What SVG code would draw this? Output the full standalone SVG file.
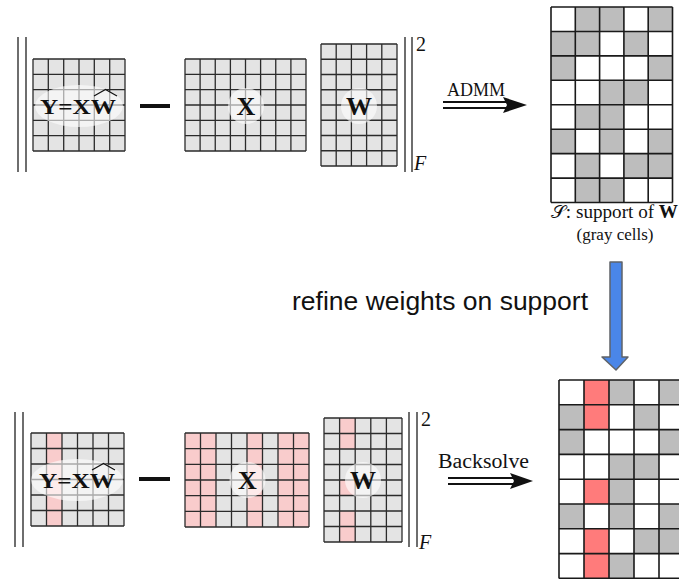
<svg xmlns="http://www.w3.org/2000/svg" width="679" height="579" viewBox="0 0 679 579">
<style>
.bg{fill:#e4e4e4}
.wh{fill:#ffffff}
.pk{fill:#f9cccc}
.gy{fill:#bdbdbd}
.rd{fill:#ff7b7b}
.grid{fill:none;stroke:#2b2b2b;stroke-width:1.3}
.grid2{fill:none;stroke:#1a1a1a;stroke-width:1.6}
.bar{stroke:#4a4a4a;stroke-width:1.6}
.minus{stroke:#111;stroke-width:4}
.halo{fill:#ffffff;fill-opacity:0.6}
.lbl{font-family:"Liberation Serif",serif;font-weight:bold;fill:#111;text-anchor:middle}
.ser{font-family:"Liberation Serif",serif;fill:#111}
.it{font-family:"Liberation Serif",serif;font-style:italic;fill:#111}
.dl{stroke:#111;stroke-width:2}
</style>

<g id="top-norm">
  <line class="bar" x1="18" y1="37" x2="18" y2="172"/>
  <line class="bar" x1="26" y1="37" x2="26" y2="172"/>
  <line class="bar" x1="405" y1="37" x2="405" y2="172"/>
  <line class="bar" x1="412" y1="37" x2="412" y2="172"/>
  <text class="ser" x="416" y="51" font-size="20">2</text>
  <text class="it" x="414" y="170" font-size="20">F</text>
  <line class="minus" x1="140" y1="106" x2="170" y2="106"/>
</g>

<g id="top-Y">
  <rect class="bg" x="33" y="59" width="92" height="92"/>
  <path class="grid" d="M33 59V151M48.3 59V151M63.7 59V151M79 59V151M94.3 59V151M109.7 59V151M125 59V151M33 59H125M33 74.3H125M33 89.7H125M33 105H125M33 120.3H125M33 135.7H125M33 151H125"/>
  <ellipse class="halo" cx="79" cy="106" rx="44" ry="21"/>
  <text class="lbl" x="78" y="114" font-size="21" textLength="76" lengthAdjust="spacingAndGlyphs">Y=XW</text>
  <path d="M94 96L105.5 89.5L117 96" fill="none" stroke="#111" stroke-width="1.2"/>
</g>

<g id="top-X">
  <rect class="bg" x="185" y="59" width="121" height="92"/>
  <path class="grid" d="M185 59V151M200.1 59V151M215.25 59V151M230.4 59V151M245.5 59V151M260.6 59V151M275.75 59V151M290.9 59V151M306 59V151M185 59H306M185 74.3H306M185 89.7H306M185 105H306M185 120.3H306M185 135.7H306M185 151H306"/>
  <circle class="halo" cx="246" cy="106" r="18"/>
  <text class="lbl" x="246" y="115" font-size="26">X</text>
</g>

<g id="top-W">
  <rect class="bg" x="321" y="44" width="76" height="122"/>
  <path class="grid" d="M321 44V166M336.2 44V166M351.4 44V166M366.6 44V166M381.8 44V166M397 44V166M321 44H397M321 59.25H397M321 74.5H397M321 89.75H397M321 105H397M321 120.25H397M321 135.5H397M321 150.75H397M321 166H397"/>
  <circle class="halo" cx="359" cy="106" r="18"/>
  <text class="lbl" x="359" y="115" font-size="26">W</text>
</g>

<g id="admm-arrow">
  <text class="ser" x="447" y="96" font-size="19" textLength="58" lengthAdjust="spacingAndGlyphs">ADMM</text>
  <line class="dl" x1="443" y1="102" x2="510" y2="102"/>
  <line class="dl" x1="443" y1="108" x2="510" y2="108"/>
  <polygon points="503,97 527,105 503,113 507,105" fill="#111"/>
</g>

<g id="top-S">
  <rect class="wh" x="551" y="7" width="121.5" height="195.5"/>
  <g class="gy">
    <rect x="575.3" y="7" width="24.3" height="24.44"/><rect x="599.6" y="7" width="24.3" height="24.44"/><rect x="648.2" y="7" width="24.3" height="24.44"/>
    <rect x="551" y="31.44" width="24.3" height="24.44"/><rect x="575.3" y="31.44" width="24.3" height="24.44"/><rect x="623.9" y="31.44" width="24.3" height="24.44"/>
    <rect x="551" y="55.88" width="24.3" height="24.44"/><rect x="648.2" y="55.88" width="24.3" height="24.44"/>
    <rect x="599.6" y="80.32" width="24.3" height="24.44"/><rect x="623.9" y="80.32" width="24.3" height="24.44"/>
    <rect x="575.3" y="104.76" width="24.3" height="24.44"/><rect x="599.6" y="104.76" width="24.3" height="24.44"/>
    <rect x="551" y="129.2" width="24.3" height="24.44"/><rect x="599.6" y="129.2" width="24.3" height="24.44"/><rect x="648.2" y="129.2" width="24.3" height="24.44"/>
    <rect x="575.3" y="153.64" width="24.3" height="24.44"/><rect x="623.9" y="153.64" width="24.3" height="24.44"/><rect x="648.2" y="153.64" width="24.3" height="24.44"/>
    <rect x="575.3" y="178.08" width="24.3" height="24.44"/><rect x="599.6" y="178.08" width="24.3" height="24.44"/>
  </g>
  <path class="grid2" d="M551 7V202.5M575.3 7V202.5M599.6 7V202.5M623.9 7V202.5M648.2 7V202.5M672.5 7V202.5M551 7H672.5M551 31.44H672.5M551 55.88H672.5M551 80.32H672.5M551 104.76H672.5M551 129.2H672.5M551 153.64H672.5M551 178.08H672.5M551 202.5H672.5"/>
  <text class="ser" x="551" y="218" font-size="18" textLength="127" lengthAdjust="spacingAndGlyphs"><tspan font-family="'DejaVu Serif',serif">𝒮</tspan>: support of <tspan font-weight="bold">W</tspan></text>
  <text class="ser" x="615" y="240" font-size="17" text-anchor="middle">(gray cells)</text>
</g>

<g id="refine">
  <text x="292" y="310" font-family="'Liberation Sans',Arial,sans-serif" font-size="26" fill="#111" textLength="296" lengthAdjust="spacingAndGlyphs">refine weights on support</text>
  <polygon points="610,262 622,262 622,357 628,357 616,370 602,357 610,357" fill="#4a86e8" stroke="#5f6368" stroke-width="1.5" stroke-linejoin="round"/>
</g>

<g id="bottom-norm">
  <line class="bar" x1="15" y1="412" x2="15" y2="547"/>
  <line class="bar" x1="23" y1="412" x2="23" y2="547"/>
  <line class="bar" x1="409" y1="412" x2="409" y2="547"/>
  <line class="bar" x1="417" y1="412" x2="417" y2="547"/>
  <text class="ser" x="421" y="426" font-size="20">2</text>
  <text class="it" x="419" y="549" font-size="20">F</text>
  <line class="minus" x1="139" y1="479" x2="170" y2="479"/>
</g>

<g id="bottom-Y">
  <rect class="bg" x="31" y="433" width="93" height="93"/>
  <rect class="pk" x="46.5" y="433" width="15.5" height="93"/>
  <path class="grid" d="M31 433V526M46.5 433V526M62 433V526M77.5 433V526M93 433V526M108.5 433V526M124 433V526M31 433H124M31 448.5H124M31 464H124M31 479.5H124M31 495H124M31 510.5H124M31 526H124"/>
  <ellipse class="halo" cx="77" cy="480" rx="46" ry="21"/>
  <text class="lbl" x="77" y="488" font-size="21" textLength="76" lengthAdjust="spacingAndGlyphs">Y=XW</text>
  <path d="M92 470L103.5 463.5L115 470" fill="none" stroke="#111" stroke-width="1.2"/>
</g>

<g id="bottom-X">
  <rect class="bg" x="185" y="433" width="124" height="94"/>
  <rect class="pk" x="185" y="433" width="31" height="94"/>
  <rect class="pk" x="247" y="433" width="15.5" height="94"/>
  <rect class="pk" x="278" y="433" width="31" height="94"/>
  <path class="grid" d="M185 433V527M200.5 433V527M216 433V527M231.5 433V527M247 433V527M262.5 433V527M278 433V527M293.5 433V527M309 433V527M185 433H309M185 448.67H309M185 464.33H309M185 480H309M185 495.67H309M185 511.33H309M185 527H309"/>
  <circle class="halo" cx="247.5" cy="480" r="18"/>
  <text class="lbl" x="247.5" y="489" font-size="26">X</text>
</g>

<g id="bottom-W">
  <rect class="bg" x="324" y="418" width="78" height="124"/>
  <rect class="pk" x="339.6" y="418" width="15.6" height="31"/>
  <rect class="pk" x="339.6" y="480" width="15.6" height="15.5"/>
  <rect class="pk" x="339.6" y="511" width="15.6" height="31"/>
  <path class="grid" d="M324 418V542M339.6 418V542M355.2 418V542M370.8 418V542M386.4 418V542M402 418V542M324 418H402M324 433.5H402M324 449H402M324 464.5H402M324 480H402M324 495.5H402M324 511H402M324 526.5H402M324 542H402"/>
  <circle class="halo" cx="363" cy="480" r="18"/>
  <text class="lbl" x="363" y="489" font-size="26">W</text>
</g>

<g id="backsolve-arrow">
  <text class="ser" x="438" y="468" font-size="20" textLength="91" lengthAdjust="spacingAndGlyphs">Backsolve</text>
  <line class="dl" x1="448" y1="478" x2="515" y2="478"/>
  <line class="dl" x1="448" y1="484" x2="515" y2="484"/>
  <polygon points="510,473 533,481 510,489 514,481" fill="#111"/>
</g>

<g id="bottom-S">
  <rect class="wh" x="559" y="380" width="125" height="198.4"/>
  <g class="gy">
    <rect x="609" y="380" width="25" height="24.8"/><rect x="659" y="380" width="25" height="24.8"/>
    <rect x="559" y="404.8" width="25" height="24.8"/><rect x="634" y="404.8" width="25" height="24.8"/>
    <rect x="559" y="429.6" width="25" height="24.8"/><rect x="659" y="429.6" width="25" height="24.8"/>
    <rect x="609" y="454.4" width="25" height="24.8"/><rect x="634" y="454.4" width="25" height="24.8"/>
    <rect x="609" y="479.2" width="25" height="24.8"/>
    <rect x="559" y="504" width="25" height="24.8"/><rect x="609" y="504" width="25" height="24.8"/><rect x="659" y="504" width="25" height="24.8"/>
    <rect x="634" y="528.8" width="25" height="24.8"/><rect x="659" y="528.8" width="25" height="24.8"/>
    <rect x="609" y="553.6" width="25" height="24.8"/>
  </g>
  <g class="rd">
    <rect x="584" y="380" width="25" height="49.6"/>
    <rect x="584" y="479.2" width="25" height="24.8"/>
    <rect x="584" y="528.8" width="25" height="49.6"/>
  </g>
  <path class="grid2" d="M559 380V578.4M584 380V578.4M609 380V578.4M634 380V578.4M659 380V578.4M684 380V578.4M559 380H684M559 404.8H684M559 429.6H684M559 454.4H684M559 479.2H684M559 504H684M559 528.8H684M559 553.6H684M559 578.4H684"/>
</g>
</svg>
